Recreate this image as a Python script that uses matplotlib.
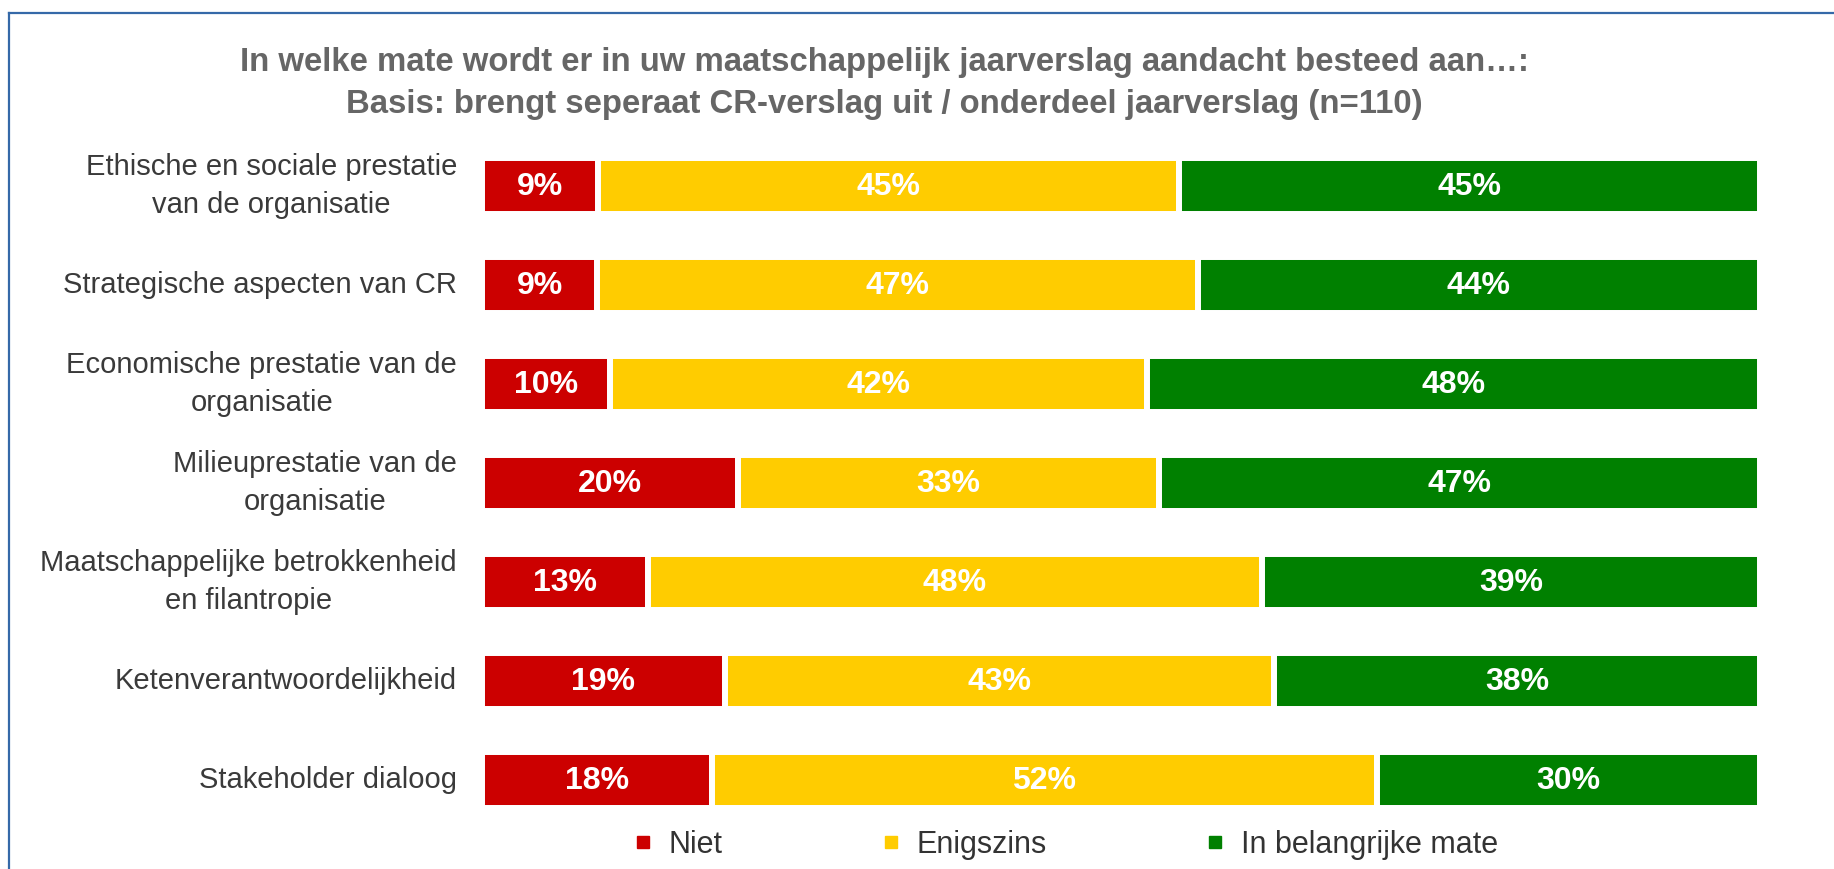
import matplotlib
matplotlib.use("Agg")
from matplotlib import pyplot as plt
from matplotlib.lines import Line2D

plt.rcParams['font.family'] = ['Liberation Sans', 'DejaVu Sans']

categories = [
    "Ethische en sociale prestatie\nvan de organisatie",
    "Strategische aspecten van CR",
    "Economische prestatie van de\norganisatie",
    "Milieuprestatie van de\norganisatie",
    "Maatschappelijke betrokkenheid\nen filantropie",
    "Ketenverantwoordelijkheid",
    "Stakeholder dialoog",
]
series_names = ["Niet", "Enigszins", "In belangrijke mate"]
niet = [9.1, 9, 10, 20, 13, 19, 18]
enigszins = [45.45, 47, 42, 33, 48, 43, 52]
belangrijk = [45.45, 44, 48, 47, 39, 38, 30]
colors = ["#CC0000", "#FFCC00", "#008000"]

W, H = 1834, 869
fig = plt.figure(figsize=(W / 100, H / 100), dpi=100)

# axes placed in pixel terms of the reference
ax = fig.add_axes([482 / W, 1 - 829 / H, 1278 / W, (829 - 136.5) / H])

ypos = list(range(len(categories)))
left = [0] * len(categories)
for vals, name, col in zip([niet, enigszins, belangrijk], series_names, colors):
    bars = ax.barh(ypos, vals, left=left, height=0.566, color=col,
                   edgecolor="white", linewidth=4.3, label=name)
    for b, v in zip(bars, vals):
        ax.text(b.get_x() + b.get_width() / 2, b.get_y() + b.get_height() / 2 + 0.01,
                f"{v:.0f}%", ha="center", va="center", color="white",
                fontsize=23, fontweight="bold")
    left = [l + v for l, v in zip(left, vals)]

ax.set_xlim(0, 100)
ax.set_ylim(len(categories) - 0.5, -0.5)
ax.set_yticks(ypos)
ax.set_yticklabels(categories, fontsize=21, color="#3a3a3a", multialignment="center",
                   linespacing=1.45, va="center")
ax.tick_params(axis="y", length=0, pad=18)
ax.set_xticks([])
for s in ax.spines.values():
    s.set_visible(False)

# title
fig.text(884 / W, 1 - 62 / H, "In welke mate wordt er in uw maatschappelijk jaarverslag aandacht besteed aan…:",
         ha="center", va="center", fontsize=23.7, fontweight="bold", color="#666666")
fig.text(884 / W, 1 - 104 / H, "Basis: brengt seperaat CR-verslag uit / onderdeel jaarverslag (n=110)",
         ha="center", va="center", fontsize=23.7, fontweight="bold", color="#666666")

# legend
handles = [Line2D([], [], marker="s", linestyle="none", markersize=9, color=c) for c in colors]
fig.legend(handles, series_names, loc="center", bbox_to_anchor=(1066 / W, 1 - 845 / H),
           ncol=3, frameon=False, fontsize=22, handlelength=0.6, handletextpad=0.55,
           columnspacing=5.2, labelcolor="#333333")

# blue frame (top and left edges visible)
fig.add_artist(Line2D([9 / W, 9 / W], [0, 1 - 13 / H], color="#3569A8", linewidth=1.6))
fig.add_artist(Line2D([9 / W, 1], [1 - 13 / H, 1 - 13 / H], color="#3569A8", linewidth=1.6))

fig.savefig("out.png", dpi=100)
